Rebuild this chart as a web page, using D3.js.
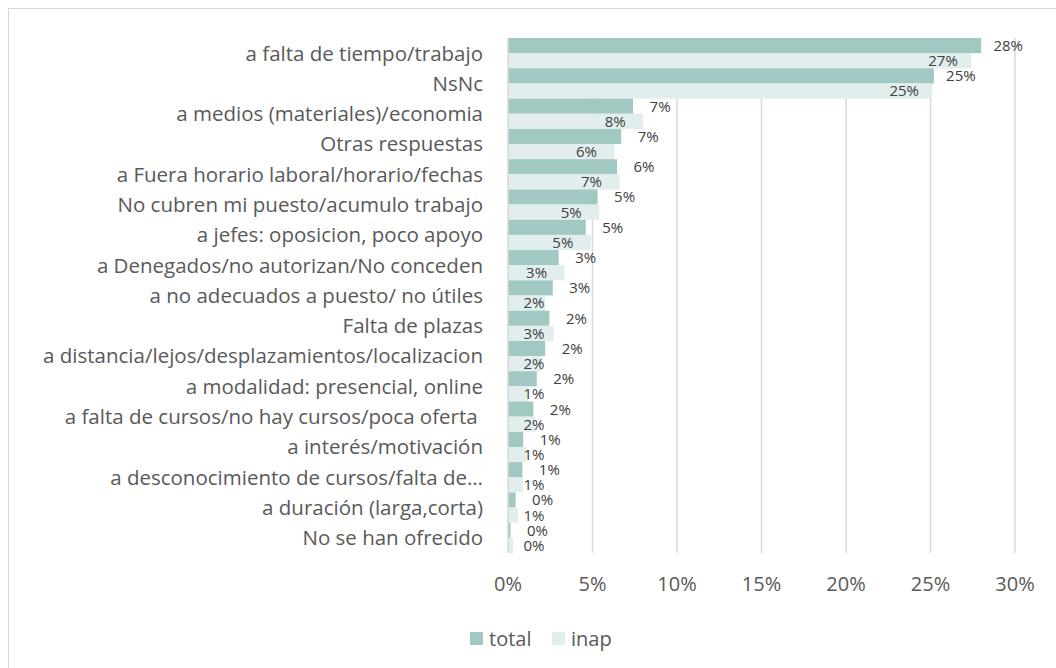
<!DOCTYPE html>
<html>
<head>
    <meta charset="utf-8">
    <title>Motivos</title>
    <script src="https://cdnjs.cloudflare.com/ajax/libs/d3/7.8.5/d3.min.js"></script>
    <style>
        body { margin: 0; background: #fff; }
        text { font-family: "Open Sans", sans-serif; }
    </style>
</head>
<body>
    <div id="chart"></div>

    <script>
        // categories, top to bottom
        var categories = [
            "a falta de tiempo/trabajo",
            "NsNc",
            "a medios (materiales)/economia",
            "Otras respuestas",
            "a Fuera horario laboral/horario/fechas",
            "No cubren mi puesto/acumulo trabajo",
            "a jefes: oposicion, poco apoyo",
            "a Denegados/no autorizan/No conceden",
            "a no adecuados a puesto/ no útiles",
            "Falta de plazas",
            "a distancia/lejos/desplazamientos/localizacion",
            "a modalidad: presencial, online",
            "a falta de cursos/no hay cursos/poca oferta ",
            "a interés/motivación",
            "a desconocimiento de cursos/falta de…",
            "a duración (larga,corta)",
            "No se han ofrecido"
        ];

        // percentages
        var total = [28.0, 25.2, 7.4, 6.7, 6.45, 5.3, 4.6, 3.0, 2.65, 2.45, 2.2, 1.7, 1.5, 0.9, 0.85, 0.45, 0.15];
        var inap  = [27.4, 25.1, 8.0, 6.3, 6.6, 5.4, 4.9, 3.35, 2.2, 2.7, 2.0, 1.2, 1.6, 1.1, 0.9, 0.6, 0.3];

        var series = ["total", "inap"];
        var ticks = [0, 5, 10, 15, 20, 25, 30];

        var width = 1056,
            height = 668;

        var colors = { total: "#a2c8c4", inap: "#e1eeed" };

        var svg = d3.select("#chart").append("svg")
            .attr("width", width)
            .attr("height", height);

        // outer frame (runs off the right and bottom edges)
        svg.append("rect")
            .attr("x", 8.5).attr("y", 8.5)
            .attr("width", 1100).attr("height", 700)
            .attr("fill", "none")
            .attr("stroke", "#d9d9d9");

        var x = d3.scaleLinear().domain([0, 30]).range([508, 1015]);

        var y = d3.scaleBand().domain(categories).range([38, 553]).padding(0);

        var y1 = d3.scaleBand().domain(series).range([0, y.bandwidth()]).padding(0);

        // gridlines
        svg.append("g")
            .selectAll("line")
            .data(ticks.slice(1))
            .enter().append("line")
            .attr("x1", function(d) { return x(d); })
            .attr("x2", function(d) { return x(d); })
            .attr("y1", 38).attr("y2", 553)
            .attr("stroke", "#d9d9d9")
            .attr("stroke-width", 1.5);

        var rows = categories.map(function(c, i) {
            return { cat: c, total: total[i], inap: inap[i] };
        });

        var fmt = function(v) { return Math.round(v) + "%"; };

        var g = svg.append("g")
            .selectAll("g")
            .data(rows)
            .enter().append("g")
            .attr("transform", function(d) { return "translate(0," + y(d.cat) + ")"; });

        g.selectAll("rect")
            .data(function(d) { return series.map(function(s) { return { key: s, value: d[s] }; }); })
            .enter().append("rect")
            .attr("x", x(0))
            .attr("y", function(d) { return y1(d.key); })
            .attr("width", function(d) { return x(d.value) - x(0); })
            .attr("height", y1.bandwidth())
            .attr("fill", function(d) { return colors[d.key]; });

        // data labels: total outside end, inap inside end (kept off the axis)
        g.selectAll("text.val")
            .data(function(d) { return series.map(function(s) { return { key: s, value: d[s] }; }); })
            .enter().append("text")
            .attr("class", "val")
            .attr("x", function(d) {
                return d.key == "total" ? x(d.value) + 27 : Math.max(x(d.value) - 28, 534);
            })
            .attr("y", function(d) { return y1(d.key) + y1.bandwidth() / 2; })
            .attr("dy", "0.36em")
            .attr("text-anchor", "middle")
            .style("font-size", "15px")
            .attr("fill", "#404040")
            .text(function(d) { return fmt(d.value); });

        // axis line
        svg.append("line")
            .attr("x1", x(0)).attr("x2", x(0))
            .attr("y1", 38).attr("y2", 553)
            .attr("stroke", "#d9d9d9")
            .attr("stroke-width", 1.5);

        // category labels
        svg.append("g")
            .selectAll("text")
            .data(categories)
            .enter().append("text")
            .attr("x", 483)
            .attr("y", function(d) { return y(d) + y.bandwidth() / 2; })
            .attr("dy", "0.36em")
            .attr("text-anchor", "end")
            .attr("xml:space", "preserve")
            .style("font-size", "20.5px")
            .attr("fill", "#595959")
            .text(function(d) { return d; });

        // x tick labels
        svg.append("g")
            .selectAll("text")
            .data(ticks)
            .enter().append("text")
            .attr("x", function(d) { return x(d); })
            .attr("y", 584)
            .attr("dy", "0.36em")
            .attr("text-anchor", "middle")
            .style("font-size", "20px")
            .attr("fill", "#595959")
            .text(function(d) { return d + "%"; });

        // legend
        var legend = svg.append("g")
            .selectAll("g")
            .data(series)
            .enter().append("g")
            .attr("transform", function(d, i) { return "translate(" + (470 + i * 82) + ",632)"; });

        legend.append("rect")
            .attr("width", 13).attr("height", 13)
            .attr("fill", function(d) { return colors[d]; });

        legend.append("text")
            .attr("x", 19)
            .attr("y", 6.5)
            .attr("dy", "0.36em")
            .style("font-size", "20px")
            .attr("fill", "#595959")
            .text(function(d) { return d; });
    </script>
</body>
</html>
